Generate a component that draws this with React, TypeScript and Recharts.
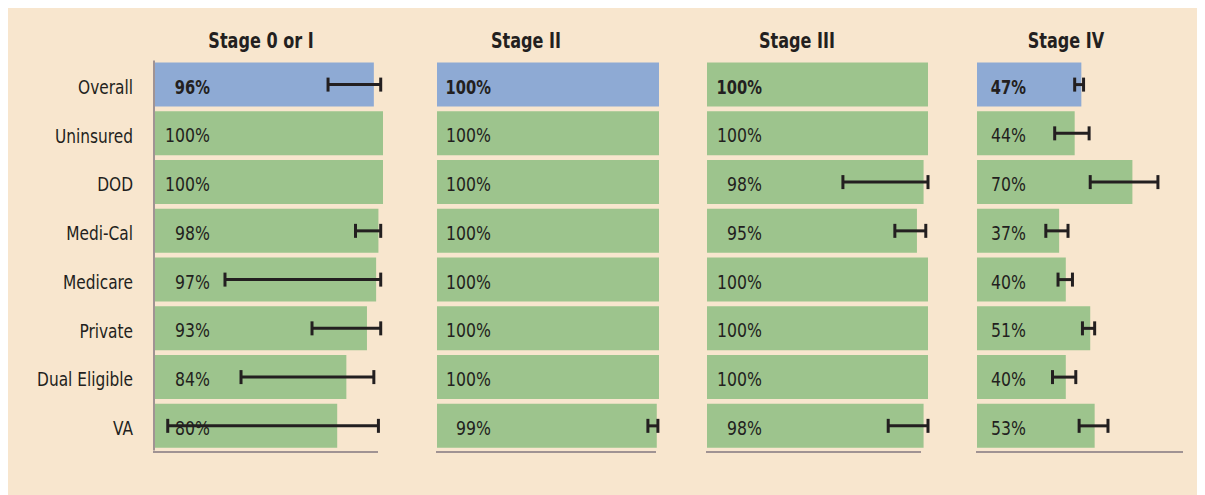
import React from "react";
import { Bar, BarChart, Cell, ErrorBar, LabelList, XAxis, YAxis } from "recharts";

const categories = ["Overall", "Uninsured", "DOD", "Medi-Cal", "Medicare", "Private", "Dual Eligible", "VA"];
const stageTitles = ["Stage 0 or I", "Stage II", "Stage III", "Stage IV"];

const stage1Values = [96, 100, 100, 98, 97, 93, 84, 80];
const stage1Low = [76, null, null, 88, 31, 69, 38, 6];
const stage1High = [99, null, null, 99, 99, 99, 96, 98];

const stage2Values = [100, 100, 100, 100, 100, 100, 100, 99];
const stage2Low = [null, null, null, null, null, null, null, 95];
const stage2High = [null, null, null, null, null, null, null, 99.5];

const stage3Values = [100, 100, 98, 95, 100, 100, 100, 98];
const stage3Low = [null, null, 61.5, 85, null, null, null, 82];
const stage3High = [null, null, 100, 99, null, null, null, 100];

const stage4Values = [47, 44, 70, 37, 40, 51, 40, 53];
const stage4Low = [44, 35, 51, 31, 36.5, 47.5, 34, 46];
const stage4High = [48, 50.5, 81.5, 41, 43, 53, 44.5, 59];

const BG = "#F8E6CE";
const GREEN = "#9DC48D";
const BLUE = "#8EAAD4";
const INK = "#231F20";
const AXIS = "#A09393";
const FONT = "'DejaVu Sans Condensed', 'Liberation Sans Narrow', 'Roboto', sans-serif";

type Row = { name: string; value: number; err: [number, number] | null };

function toRows(values: number[], low: (number | null)[], high: (number | null)[]): Row[] {
  return categories.map((name, i) => {
    const lo = low[i];
    const hi = high[i];
    return {
      name,
      value: values[i],
      err: lo == null || hi == null ? null : [values[i] - lo, hi - values[i]],
    };
  });
}

// baseLen: the drawn bottom rule is a bit shorter than the plot in the original
const panels = [
  { rows: toRows(stage1Values, stage1Low, stage1High), left: 0, axisW: 147, plotW: 229, baseLen: 225, labelAt: 56, blueOverall: true, titleX: 254 },
  { rows: toRows(stage2Values, stage2Low, stage2High), left: 430, axisW: 0, plotW: 222, baseLen: 220, labelAt: 54, blueOverall: true, titleX: 519 },
  { rows: toRows(stage3Values, stage3Low, stage3High), left: 700, axisW: 0, plotW: 221, baseLen: 215, labelAt: 55, blueOverall: false, titleX: 790 },
  { rows: toRows(stage4Values, stage4Low, stage4High), left: 970, axisW: 0, plotW: 222, baseLen: 207, labelAt: 49, blueOverall: true, titleX: 1059 },
];

const H = 487;
const TOP = 52.6;
const BOTTOM = 43.4;

// narrow the condensed font a bit more so it sits like the original face
function CategoryTick(props: any) {
  const { x, y, payload } = props;
  return (
    <text
      transform={`translate(${x},${Number(y) + 9}) scale(0.9,1)`}
      textAnchor="end"
      fontSize={19}
      fontFamily={FONT}
      fill={INK}
    >
      {payload.value}
    </text>
  );
}

function Panel({ p }: { p: (typeof panels)[number] }) {
  const width = p.axisW + p.plotW + 12;
  return (
    <>
      <BarChart
        width={width}
        height={H}
        data={p.rows}
        layout="vertical"
        barSize={44}
        margin={{ top: TOP, right: 12, bottom: BOTTOM, left: 0 }}
        style={{ position: "absolute", left: p.left, top: 0, overflow: "visible" }}
      >
        <XAxis type="number" domain={[0, 100]} height={1} tick={false} tickLine={false} axisLine={false} />
        {p.axisW > 0 ? (
          <YAxis
            type="category"
            dataKey="name"
            width={p.axisW}
            tickLine={false}
            tickSize={0}
            tickMargin={21}
            axisLine={{ stroke: AXIS, strokeWidth: 2 }}
            tick={<CategoryTick />}
          />
        ) : (
          <YAxis type="category" dataKey="name" hide />
        )}
        <Bar dataKey="value" isAnimationActive={false}>
          {p.rows.map((r, i) => (
            <Cell key={r.name} fill={i === 0 && p.blueOverall ? BLUE : GREEN} />
          ))}
          <LabelList
            dataKey="value"
            content={(props: any) => {
              const { x, y, height, value, index } = props;
              const tx = Number(x) + p.labelAt;
              const ty = Number(y) + Number(height) / 2 + 9;
              return (
                <text
                  transform={`translate(${tx},${ty}) scale(${index === 0 ? 0.86 : 0.92},1)`}
                  textAnchor="end"
                  fontSize={19}
                  fontFamily={FONT}
                  fontWeight={index === 0 ? 700 : 400}
                  fill={INK}
                >
                  {value}%
                </text>
              );
            }}
          />
          <ErrorBar dataKey="err" direction="x" width={7} stroke={INK} strokeWidth={3} />
        </Bar>
      </BarChart>
      <div
        style={{
          position: "absolute",
          left: p.left + p.axisW - 1,
          top: H - BOTTOM - 1,
          width: p.baseLen,
          height: 2,
          background: AXIS,
        }}
      />
    </>
  );
}

export default function App() {
  return (
    <div style={{ position: "relative", width: 1198, height: H, marginLeft: -1, background: BG, fontFamily: FONT }}>
      {stageTitles.map((t, i) => (
        <div
          key={t}
          style={{
            position: "absolute",
            left: panels[i].titleX - 100,
            width: 200,
            top: 21,
            textAlign: "center",
            fontSize: 21,
            fontWeight: 700,
            lineHeight: "24px",
            color: INK,
            transform: "scaleX(0.85)",
          }}
        >
          {t}
        </div>
      ))}
      {panels.map((p, i) => (
        <Panel key={i} p={p} />
      ))}
    </div>
  );
}
